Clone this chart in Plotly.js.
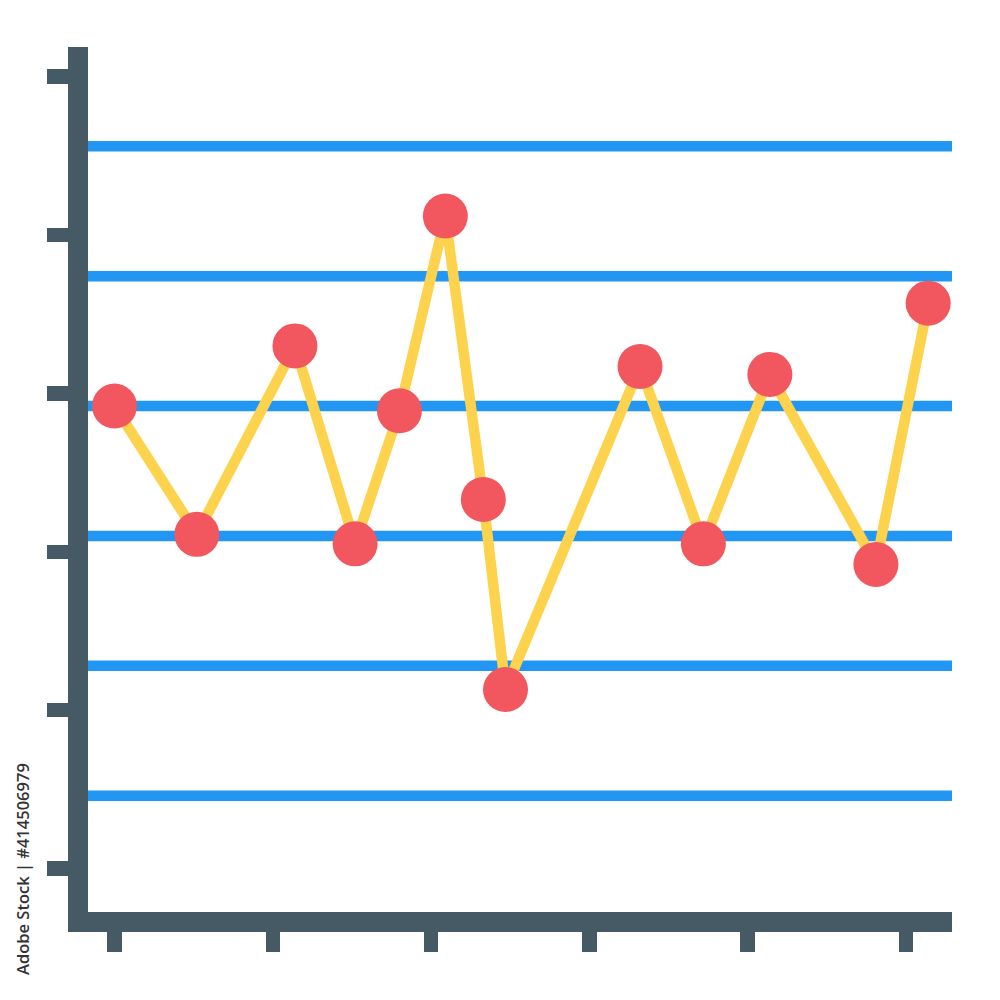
<!DOCTYPE html>
<html>
<head>
<meta charset="utf-8">
<script src="https://cdn.plot.ly/plotly-3.0.1.min.js"></script>
<style>html,body{margin:0;padding:0;background:#fff;}#chart{width:1000px;height:1000px;}</style>
</head>
<body>
<div id="chart"></div>
<script>
// Data (chart units: ticks at 1..6 on both axes)
const sampleX = [1.00, 1.52, 2.14, 2.52, 2.80, 3.09, 3.33, 3.47, 4.32, 4.72, 5.14, 5.81, 6.14];
const sampleY = [3.92, 3.11, 4.30, 3.05, 3.89, 5.12, 3.33, 2.13, 4.17, 3.05, 4.12, 2.92, 4.57];
const controlLimits = [5.56, 4.74, 3.92, 3.10, 2.28, 1.46];
const xTicks = [1, 2, 3, 4, 5, 6];
const yTicks = [1, 2, 3, 4, 5, 6];
const watermark = "Adobe Stock | #414506979";

const DARK = "#465A65", BLUE = "#2196F3", YELLOW = "#FDD34E", RED = "#F2565E";

const traces = [{
  x: sampleX, y: sampleY, type: "scatter", mode: "lines+markers",
  line: {color: YELLOW, width: 10.5},
  marker: {color: RED, size: 45, line: {width: 0}},
  cliponaxis: false, hoverinfo: "skip"
}];

const shapes = controlLimits.map(v => ({
  type: "line", xref: "paper", yref: "y", x0: 0, x1: 1, y0: v, y1: v,
  line: {color: BLUE, width: 10.5}, layer: "below"
}));

const axisCommon = {
  showgrid: false, zeroline: false, showticklabels: false,
  showline: true, linewidth: 20, linecolor: DARK,
  ticks: "outside", tickcolor: DARK, tickwidth: 14.5,
  tickmode: "array", fixedrange: true
};

const layout = {
  width: 1000, height: 1000,
  margin: {l: 88, r: 48, t: 47, b: 88, pad: 0},
  paper_bgcolor: "#ffffff", plot_bgcolor: "#ffffff",
  showlegend: false,
  xaxis: Object.assign({}, axisCommon, {range: [0.8326, 6.2906], tickvals: xTicks, ticklen: 20}),
  yaxis: Object.assign({}, axisCommon, {range: [0.7253, 6.1875], tickvals: yTicks, ticklen: 21}),
  shapes: shapes,
  annotations: [{
    text: watermark, xref: "paper", yref: "paper",
    x: (22 - 88) / 864, y: (912 - 869) / 865,
    xanchor: "center", yanchor: "middle", textangle: -90, showarrow: false,
    font: {family: "Open Sans", size: 16.5, color: "#333333", weight: 600}
  }]
};

Plotly.newPlot("chart", traces, layout, {displayModeBar: false, staticPlot: true});
</script>
</body>
</html>
